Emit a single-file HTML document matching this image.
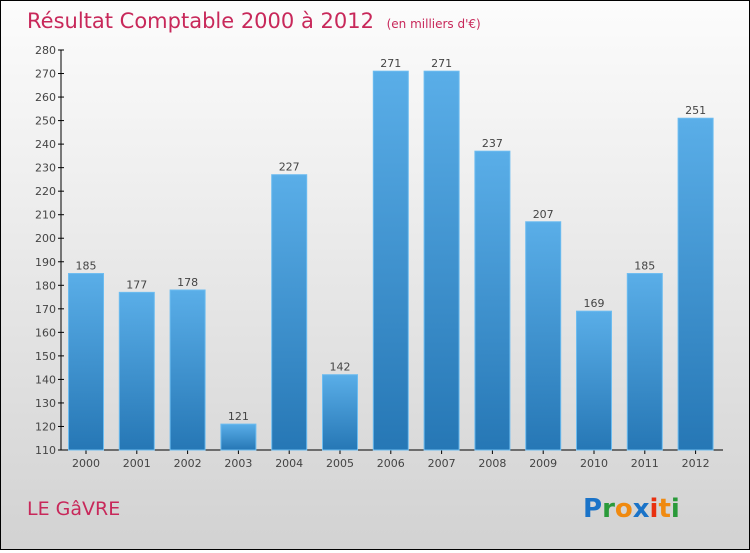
<!DOCTYPE html>
<html><head><meta charset="utf-8"><style>
body{margin:0}
#c{width:748px;height:548px;border:1px solid #000;background:linear-gradient(#fcfcfc,#f0f0f0 30%,#d2d2d2);position:relative;font-family:"DejaVu Sans","Liberation Sans",sans-serif}
</style></head><body>
<div id="c">
<svg id="s" width="748" height="548">
<defs><linearGradient id="g" x1="0" y1="0" x2="0" y2="1"><stop offset="0" stop-color="#5aaee8"/><stop offset="1" stop-color="#2677b5"/></linearGradient></defs>
<text x="26" y="27" font-size="21" fill="#c8285a">Résultat Comptable 2000 à 2012 <tspan font-size="12" dx="6">(en milliers d'€)</tspan></text>
<text x="26" y="514" font-size="19" fill="#c8285a">LE GâVRE</text>
<g font-size="26" font-weight="bold" font-family="'DejaVu Sans',sans-serif">
<text x="582" y="516"><tspan fill="#1a73c8">P</tspan><tspan fill="#2a9a3a">r</tspan><tspan fill="#f08a10">o</tspan><tspan fill="#1a73c8">x</tspan><tspan fill="#e83010">i</tspan><tspan fill="#f08a10">t</tspan><tspan fill="#2a9a3a">i</tspan></text></g>
<g id="ax"></g><g id="bars"></g>
</svg></div>
<script>
const years=["2000","2001","2002","2003","2004","2005","2006","2007","2008","2009","2010","2011","2012"];
const values=[185,177,178,121,227,142,271,271,237,207,169,185,251];
const ticks=[110,120,130,140,150,160,170,180,190,200,210,220,230,240,250,260,270,280];
const NS="http://www.w3.org/2000/svg";
const y=v=>449-(v-110)*400/170;
const x=i=>85+i*50.8;
function mk(t,a,p){const e=document.createElementNS(NS,t);for(const k in a)e.setAttribute(k,a[k]);p.appendChild(e);return e;}
const ax=document.getElementById('ax'),bars=document.getElementById('bars');
const yl=mk('line',{x1:60,y1:49,x2:60,y2:449,stroke:'#000'},ax);


const xl=mk('line',{x1:60,y1:449,x2:722,y2:449,stroke:'#000'},ax);


ticks.forEach(t=>{mk('line',{x1:57,x2:63,y1:y(t),y2:y(t),stroke:'#000'},ax);
const tx=mk('text',{x:55,y:y(t)+4,'text-anchor':'end','font-size':11,fill:'#444'},ax);tx.textContent=t;

});
years.forEach((yr,i)=>{const cx=x(i),v=values[i];
mk('line',{x1:cx,x2:cx,y1:449,y2:453,stroke:'#000'},ax);
const r=mk('rect',{x:cx-17.5,y:y(v),width:35,height:449-y(v),fill:'url(#g)',stroke:'#6cbcf0','stroke-width':1},bars);


const l=mk('text',{x:cx,y:y(v)-4,'text-anchor':'middle','font-size':11,fill:'#444'},bars);l.textContent=v;


const xt=mk('text',{x:cx,y:466,'text-anchor':'middle','font-size':11,fill:'#444'},ax);xt.textContent=yr;

});
</script></body></html>
